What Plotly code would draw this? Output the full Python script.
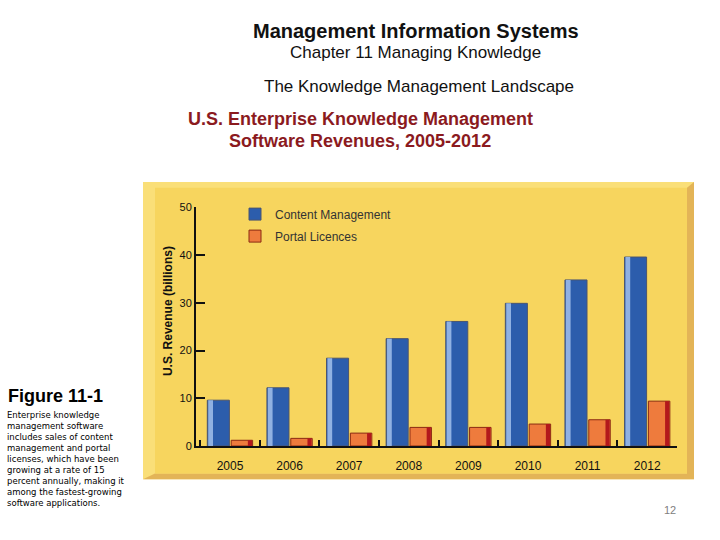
import plotly.graph_objects as go

# Chart data
years = ["2005", "2006", "2007", "2008", "2009", "2010", "2011", "2012"]
content_mgmt = [9.6, 12.2, 18.4, 22.5, 26.1, 29.9, 34.8, 39.6]
portal_licences = [1.2, 1.6, 2.7, 3.9, 3.9, 4.6, 5.5, 9.4]
y_ticks = [0, 10, 20, 30, 40, 50]

W, H = 720, 540


def px(x):
    return x / W


def py(y):
    return 1 - y / H


fig = go.Figure()

# Main bars
fig.add_trace(go.Bar(
    x=years, y=content_mgmt, name="Content Management", legendgroup="cm",
    offset=-0.38, width=0.37,
    marker=dict(color="#2C5DAC", line=dict(color="#4A5570", width=1)),
))
fig.add_trace(go.Bar(
    x=years, y=portal_licences, name="Portal Licences", legendgroup="pl",
    offset=0.02, width=0.36,
    marker=dict(color="#EE7B3D", line=dict(color="#8A2A12", width=1)),
))
# bevel strips for the 3D look
fig.add_trace(go.Bar(
    x=years, y=content_mgmt, showlegend=False, hoverinfo="skip",
    offset=-0.365, width=0.08,
    marker=dict(color="#90B1E2", line=dict(width=0)),
))
fig.add_trace(go.Bar(
    x=years, y=portal_licences, showlegend=False, hoverinfo="skip",
    offset=0.30, width=0.07,
    marker=dict(color="#B3181C", line=dict(width=0)),
))

# yellow panel with bevelled edges
shapes = [
    dict(type="rect", xref="paper", yref="paper", layer="below",
         x0=px(143), x1=px(694), y0=py(484), y1=py(180),
         fillcolor="#FADF78", line=dict(width=0)),
    dict(type="path", xref="paper", yref="paper", layer="below",
         path="M %f,%f L %f,%f L %f,%f L %f,%f L %f,%f L %f,%f Z" % (
             px(694), py(180), px(694), py(484), px(143), py(484),
             px(155), py(478), px(687), py(478), px(687), py(186)),
         fillcolor="#E3B457", line=dict(width=0)),
    dict(type="rect", xref="paper", yref="paper", layer="below",
         x0=px(155), x1=px(687), y0=py(478), y1=py(186),
         fillcolor="#F7D55E", line=dict(width=0)),
]

caption = ("Enterprise knowledge<br>management software<br>includes sales of content<br>"
           "management and portal<br>licenses, which have been<br>growing at a rate of 15<br>"
           "percent annually, making it<br>among the fastest-growing<br>software applications.")

annotations = [
    dict(text="<b>Management Information Systems</b>", x=px(416), y=py(26),
         font=dict(size=20, color="#111")),
    dict(text="Chapter 11 Managing Knowledge", x=px(416), y=py(48),
         font=dict(size=17, color="#111")),
    dict(text="The Knowledge Management Landscape", x=px(419), y=py(82),
         font=dict(size=17, color="#111")),
    dict(text="<b>U.S. Enterprise Knowledge Management</b>", x=px(360), y=py(116),
         font=dict(size=18, color="#8B1A1E")),
    dict(text="<b>Software Revenues, 2005-2012</b>", x=px(360), y=py(138),
         font=dict(size=18, color="#8B1A1E")),
    dict(text="<b>U.S. Revenue (billions)</b>", x=px(168), y=py(312), textangle=-90,
         font=dict(size=12, color="#111")),
    dict(text="<b>Figure 11-1</b>", x=px(6), y=py(399), xanchor="left",
         font=dict(size=18, color="#000")),
    dict(text=caption, x=px(5), y=py(411), xanchor="left", yanchor="top", align="left",
         font=dict(family="DejaVu Sans", size=8.5, color="#000")),
    dict(text="12", x=px(670), y=py(515), font=dict(size=11, color="#808080")),
]
for a in annotations:
    a.update(xref="paper", yref="paper", showarrow=False)
    a.setdefault("xanchor", "center")
    a.setdefault("yanchor", "middle")

fig.update_layout(
    autosize=True,
    margin=dict(l=0, r=0, t=0, b=0),
    paper_bgcolor="white",
    plot_bgcolor="rgba(0,0,0,0)",
    barmode="overlay",
    font=dict(family="Liberation Sans, Arial, sans-serif", color="#111"),
    shapes=shapes,
    annotations=annotations,
    legend=dict(x=px(235), y=py(198), xanchor="left", yanchor="top",
                bgcolor="rgba(0,0,0,0)", font=dict(size=12, color="#333"),
                tracegroupgap=3),
    xaxis=dict(domain=[px(196), px(677)], range=[-0.57, 7.5],
               showgrid=False, showline=True, linecolor="#111", linewidth=2,
               ticks="inside", tickson="boundaries", ticklen=6, tickwidth=2,
               tickcolor="#111", ticklabelstandoff=8,
               tickfont=dict(size=12, color="#111")),
    yaxis=dict(domain=[py(450), py(206)], range=[0, 50], tickvals=y_ticks,
               showgrid=False, zeroline=False, showline=True, linecolor="#111",
               linewidth=2, ticks="inside", ticklen=9, tickwidth=2, tickcolor="#111",
               tickfont=dict(size=11, color="#111")),
)

# fill the browser window exactly, no page margin, no modebar
fig.write_html("out.html", config={"displayModeBar": False},
               default_width="100vw", default_height="100vh",
               post_script="document.body.style.margin = '0';")
